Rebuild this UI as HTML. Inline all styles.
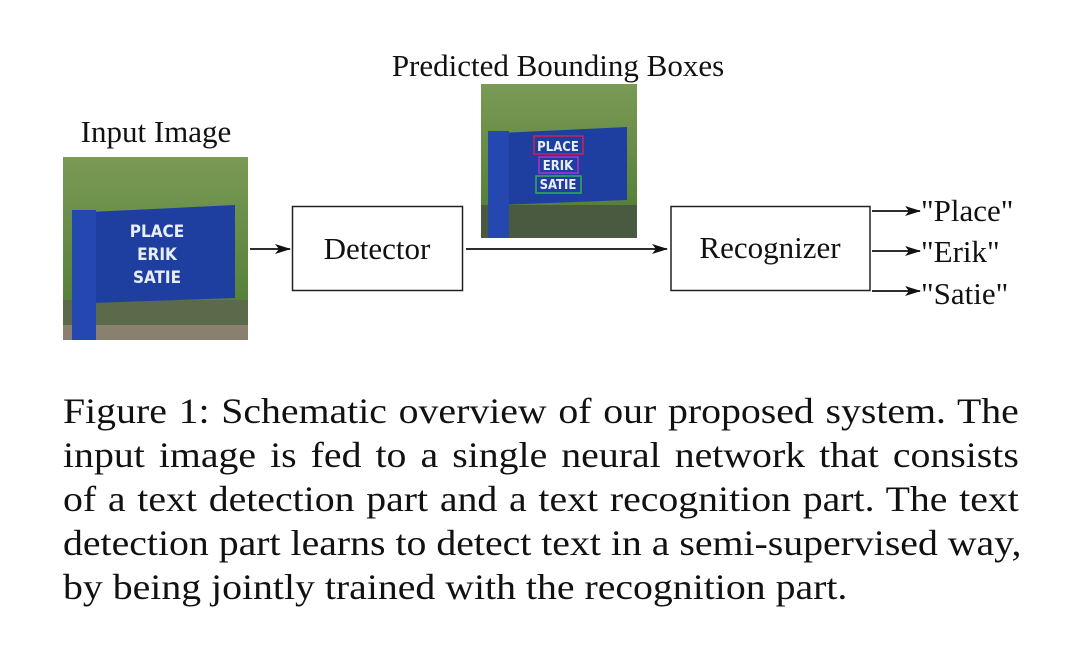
<!DOCTYPE html>
<html><head><meta charset="utf-8"><style>
body{margin:0;background:#fff;width:1080px;height:656px;overflow:hidden;font-family:"Liberation Serif",serif;}
.cap{position:absolute;left:63px;top:389px;width:865px;font-size:36px;line-height:44px;color:#111;transform:scaleX(1.105);transform-origin:0 0;}
.cap div{text-align:justify;text-align-last:justify;white-space:nowrap;}
.cap div.l{text-align-last:left;}
</style></head><body>
<svg width="1080" height="380" style="position:absolute;left:0;top:0" font-family="Liberation Serif, serif">
<defs>
<marker id="a" markerWidth="16" markerHeight="10" refX="15" refY="5" orient="auto" markerUnits="userSpaceOnUse"><path d="M0,0 L16,5 L0,10 L4,5z" fill="#111"/></marker>
<linearGradient id="tr" x1="0" y1="0" x2="0" y2="1"><stop offset="0" stop-color="#7a9a55"/><stop offset="1" stop-color="#4d7a33"/></linearGradient>
</defs>
<text x="156" y="142" font-size="31" text-anchor="middle" fill="#111">Input Image</text>
<text x="558" y="76" font-size="31" text-anchor="middle" fill="#111">Predicted Bounding Boxes</text>
<g>
<rect x="63" y="157" width="185" height="183" fill="url(#tr)"/>
<rect x="63" y="300" width="185" height="40" fill="#5a6a4a"/>
<rect x="63" y="325" width="185" height="15" fill="#8a8070"/>
<polygon points="90,212 235,205 235,298 90,303" fill="#1f3fa0"/>
<rect x="72" y="210" width="24" height="130" fill="#2448b0"/>
<g fill="#e8eef8" font-family="DejaVu Sans Condensed, DejaVu Sans, sans-serif" font-weight="bold" font-size="17" text-anchor="middle">
<text x="157" y="237">PLACE</text><text x="157" y="260">ERIK</text><text x="157" y="283">SATIE</text></g>
</g>
<g>
<rect x="481" y="84" width="156" height="154" fill="url(#tr)"/>
<rect x="481" y="205" width="156" height="33" fill="#4a5a40"/>
<polygon points="500,133 627,127 627,200 500,205" fill="#1f3fa0"/>
<rect x="488" y="131" width="21" height="107" fill="#2448b0"/>
<rect x="534" y="136" width="49" height="18" fill="none" stroke="#d02050" stroke-width="1.5"/>
<rect x="539" y="157" width="39" height="16" fill="none" stroke="#b030d0" stroke-width="1.5"/>
<rect x="536" y="176" width="45" height="17" fill="none" stroke="#30b050" stroke-width="1.5"/>
<g fill="#e8eef8" font-family="DejaVu Sans Condensed, DejaVu Sans, sans-serif" font-weight="bold" font-size="13" text-anchor="middle">
<text x="558" y="151">PLACE</text><text x="558" y="170">ERIK</text><text x="558" y="189">SATIE</text></g>
</g>
<rect x="292.5" y="206.5" width="170" height="84" fill="#fff" stroke="#222" stroke-width="1.5"/>
<text x="377" y="259" font-size="31" text-anchor="middle" fill="#111">Detector</text>
<rect x="671" y="206.5" width="199" height="84" fill="#fff" stroke="#222" stroke-width="1.5"/>
<text x="770" y="258" font-size="31" text-anchor="middle" fill="#111">Recognizer</text>
<g stroke="#111" stroke-width="1.8" marker-end="url(#a)">
<line x1="250" y1="249" x2="290" y2="249"/>
<line x1="466" y1="249" x2="667" y2="249"/>
<line x1="872" y1="211" x2="920" y2="211"/>
<line x1="872" y1="251" x2="920" y2="251"/>
<line x1="872" y1="291" x2="920" y2="291"/>
</g>
<g font-size="31" fill="#111">
<text x="921" y="221">"Place"</text>
<text x="921" y="262">"Erik"</text>
<text x="921" y="304">"Satie"</text>
</g>
</svg>
<div class="cap">
<div>Figure 1: Schematic overview of our proposed system. The</div>
<div>input image is fed to a single neural network that consists</div>
<div>of a text detection part and a text recognition part. The text</div>
<div>detection part learns to detect text in a semi-supervised way,</div>
<div class="l">by being jointly trained with the recognition part.</div>
</div>
</body></html>
